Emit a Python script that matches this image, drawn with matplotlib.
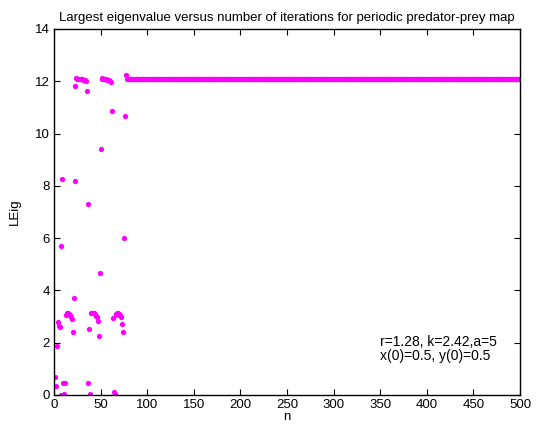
import numpy as np
import matplotlib
matplotlib.use('Agg')
import matplotlib.pyplot as plt

plt.rcParams['font.family'] = ['Liberation Sans', 'DejaVu Sans']

# transient values for n = 1..77
transient = [0.70, 0.36, 1.87, 2.78, 2.65, 2.60, 0.00, 5.71, 8.25, 0.45,
             0.03, 0.45, 3.05, 3.12, 3.12, 3.10, 3.06, 3.00, 2.90, 2.41,
             3.71, 8.17, 11.82, 12.12, 12.10, 12.10, 12.08, 12.10, 12.08, 12.07,
             12.06, 12.06, 12.05, 12.02, 11.62, 7.32, 0.45, 2.52, 0.03, 3.12,
             3.15, 3.14, 3.12, 3.08, 3.02, 2.97, 2.83, 2.24, 4.65, 9.40,
             12.12, 12.10, 12.10, 12.08, 12.08, 12.07, 12.06, 12.05, 12.04, 12.02,
             11.99, 10.88, 2.95, 0.13, 0.03, 3.05, 3.10, 3.12, 3.12, 3.10,
             3.05, 2.98, 2.70, 2.41, 6.00, 10.69, 12.24]
steady_value = 12.1
n_max = 500

n = np.arange(1, n_max + 1)
leig = np.array(transient + [steady_value] * (n_max - len(transient)))

fig = plt.figure(figsize=(5.38, 4.34), dpi=100)
ax = fig.add_axes([0.1004, 0.0899, 0.8661, 0.8433])

ax.plot(n, leig, 'o', color='#ff00ff', markersize=3.8, markeredgewidth=0)

ax.set_xlim(0, 500)
ax.set_ylim(0, 14)
ax.set_xticks(np.arange(0, 501, 50))
ax.set_yticks(np.arange(0, 15, 2))
ax.tick_params(direction='in', top=True, right=True, labelsize=9.5, length=4,
               width=0.8, pad=3)
for s in ax.spines.values():
    s.set_linewidth(1.0)

ax.set_xlabel('n', fontsize=9.5, labelpad=0)
ax.set_ylabel('LEig', fontsize=9.5, labelpad=10)
ax.set_title('Largest eigenvalue versus number of iterations for periodic predator-prey map',
             fontsize=9.5, pad=6)
ax.text(350, 1.75, 'r=1.28, k=2.42,a=5\nx(0)=0.5, y(0)=0.5', fontsize=10,
        va='center', ha='left', linespacing=1.0)

fig.savefig('out.png', dpi=100)
